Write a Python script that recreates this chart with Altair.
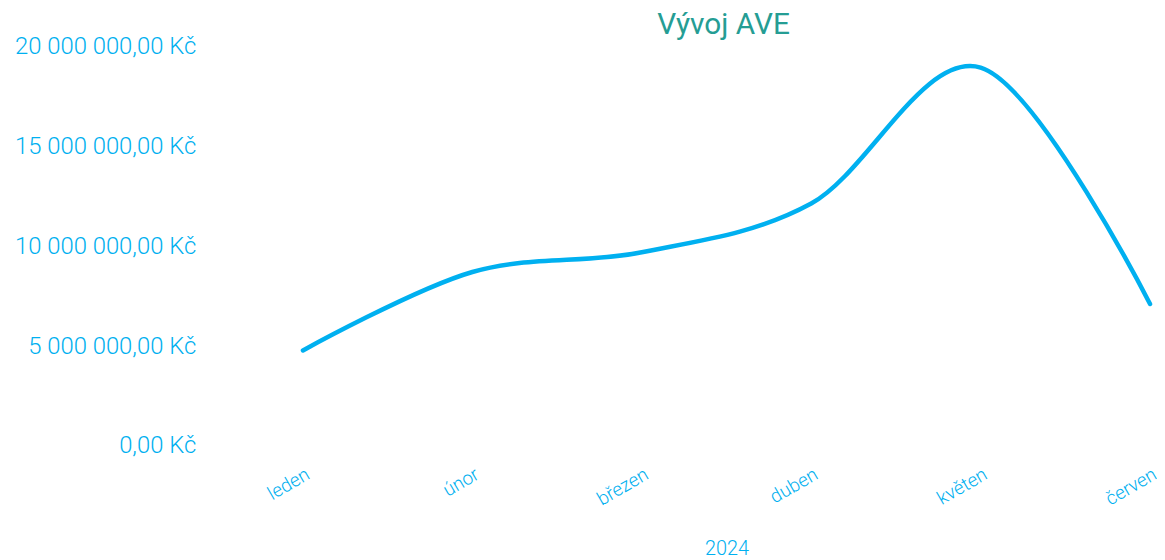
import altair as alt
import pandas as pd

months = ["leden", "únor", "březen", "duben", "květen", "červen"]
values = [4780000, 8710000, 9700000, 12140000, 18950000, 7110000]
y_ticks = [0, 5000000, 10000000, 15000000, 20000000]

df = pd.DataFrame({"month": months, "value": values})

blue = "#00B0F0"
font = "Roboto"

chart = alt.Chart(df).mark_line(
    interpolate="cardinal", tension=0, color=blue, strokeWidth=4.5, strokeCap="round"
).encode(
    x=alt.X("month:N", sort=months, title="2024",
            scale=alt.Scale(type="point", padding=0),
            axis=alt.Axis(labelAngle=-30, labelAlign="right", labelBaseline="top",
                          labelFontSize=19, labelColor=blue, labelFont=font,
                          labelFontWeight=300,
                          labelPadding=19, domain=False, ticks=False, grid=False,
                          titleFontSize=20, titleColor=blue, titleFont=font,
                          titleFontWeight=300, titlePadding=30)),
    y=alt.Y("value:Q", title=None,
            scale=alt.Scale(domain=[0, 20000000], nice=False),
            axis=alt.Axis(values=y_ticks, domain=False, ticks=False, grid=False,
                          labelFontSize=24, labelColor=blue, labelFont=font,
                          labelFontWeight=300, labelLimit=400,
                          labelPadding=108,
                          labelExpr="replace(replace(format(datum.value, ',.2f'), regexp(',', 'g'), ' '), '.', ',') + ' Kč'")),
).properties(
    width=853, height=402,
    autosize=alt.AutoSizeParams(type="none"),
    padding={"left": 297, "top": 37, "right": 7, "bottom": 113},
    title=alt.Title("Vývoj AVE", fontSize=30, color="#259D94", font=font,
                    fontWeight="normal", anchor="middle", offset=-5, dx=-3),
).configure_view(stroke=None)

chart.save("out.html", embed_options={"renderer": "svg", "actions": False})
